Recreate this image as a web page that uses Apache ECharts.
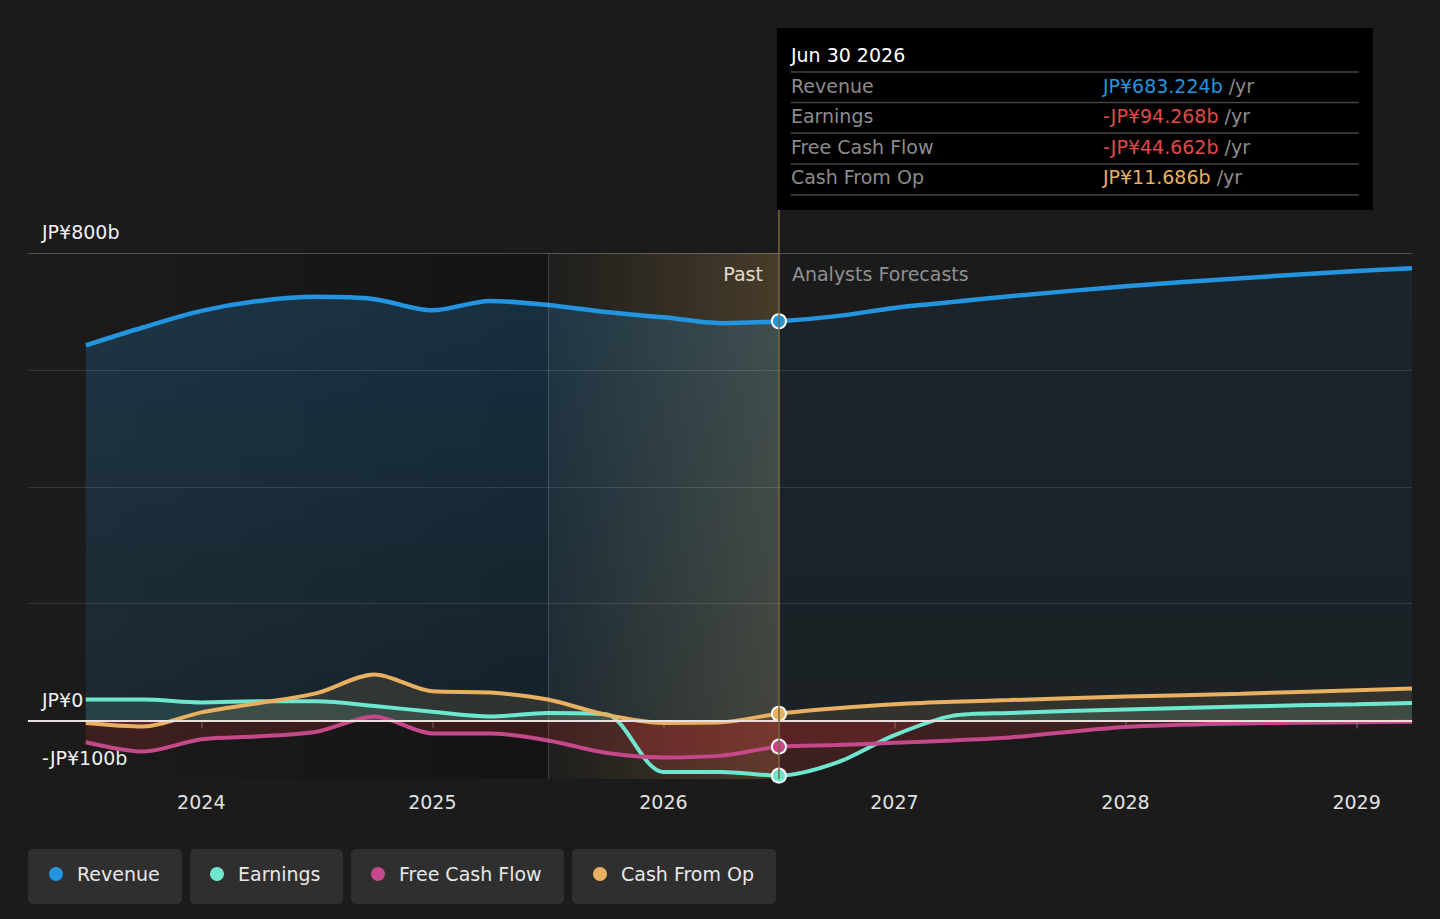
<!DOCTYPE html>
<html><head><meta charset="utf-8">
<script src="https://cdn.jsdelivr.net/npm/echarts@6/dist/echarts.min.js"></script>
<style>html,body{margin:0;padding:0;background:#1b1b1b;}#chart{width:1440px;height:919px;}</style>
</head><body><div id="chart"></div>
<script>
// ---- data (JP¥ billions, x = decimal year) ----
const xYears   = [2023.5, 2023.75, 2024.0, 2024.25, 2024.5, 2024.75, 2025.0, 2025.25, 2025.5, 2025.75, 2026.0, 2026.25, 2026.5, 2026.75, 2027.0, 2027.25, 2027.5, 2028.0, 2028.5, 2029.0, 2029.24];
const revenue  = [642, 673, 701, 718, 725, 721, 702, 718, 711, 699, 690, 680, 683.224, 692, 706, 716, 726, 743, 757, 769, 774];
const earnings = [36, 36, 31, 33, 33, 25, 15, 7, 13, 11, -88, -88, -94.268, -72, -25, 8, 13, 19, 24, 28, 30];
const fcf      = [-37, -53, -32, -27, -19, 7, -22, -22, -34, -55, -63, -60, -44.662, -42, -38, -34, -29, -11, -5, -3, -2];
const cfo      = [-4, -10, 14, 30, 47, 79, 50, 48, 36, 10, -4, -3, 11.686, 21, 28, 32, 35, 41, 46, 52, 55];
const yearTicks = [2024, 2025, 2026, 2027, 2028, 2029];
const yLabelValues = [-100, 0, 800];
const gridValues = [200, 400, 600, 800];
const pastStart = 2025.5;
const nowX = 2026.5;
const seriesNames = ['Revenue', 'Earnings', 'Free Cash Flow', 'Cash From Op'];
const seriesColors = ['#2394df', '#6ee7d1', '#c5488a', '#e8b060'];
const tipTitle = 'Jun 30 2026';
const tipValues = ['JP¥683.224b', '-JP¥94.268b', '-JP¥44.662b', 'JP¥11.686b'];
const tipColors = ['#2394df', '#e04a4a', '#e04a4a', '#e8b060'];

const FONT = 'DejaVu Sans';
const seriesData = [revenue, earnings, fcf, cfo];
const pairs = arr => xYears.map((x, i) => [x, arr[i]]);
const nowIdx = xYears.indexOf(nowX);

const chart = echarts.init(document.getElementById('chart'), null, {renderer: 'svg'});

const base = {
  backgroundColor: '#1b1b1b',
  animation: false,
  grid: {left: 28, right: 28, top: 253, bottom: 140, containLabel: false},
  xAxis: {
    type: 'value', min: 2023.25, max: 2029.24,
    axisLine: {show: true, lineStyle: {color: '#4f4f4f', width: 1.5}},
    axisTick: {show: true, customValues: yearTicks, length: 8, lineStyle: {color: '#5a5a5a', width: 1.5}},
    axisLabel: {customValues: yearTicks, formatter: v => String(Math.round(v)), color: '#e2e2e2', fontSize: 19, fontFamily: FONT, margin: 13},
    splitLine: {show: false}
  },
  yAxis: {
    type: 'value', min: -100, max: 800,
    axisLine: {show: false}, axisTick: {show: false}, splitLine: {show: false},
    axisLabel: {
      customValues: yLabelValues, inside: true, margin: 14, align: 'left', verticalAlign: 'bottom',
      lineHeight: 20, padding: [0, 0, 11, 0],
      formatter: v => v === 800 ? 'JP¥800b' : (v === 0 ? 'JP¥0' : '-JP¥100b'),
      color: '#f0f0f0', fontSize: 19, fontFamily: FONT
    }
  },
  legend: seriesNames.map((n, i) => ({
    data: [n], left: [49, 210, 371, 593][i], top: 863, padding: 0,
    icon: 'circle', itemWidth: 14, itemHeight: 14, selectedMode: false,
    textStyle: {color: '#e8e8e8', fontSize: 19, fontFamily: FONT, lineHeight: 22, padding: [0, 0, 0, 9]}
  })),
  series: []
};
chart.setOption(base);

const px = v => chart.convertToPixel({xAxisIndex: 0}, v);
const py = v => chart.convertToPixel({yAxisIndex: 0}, v);
const yTop = py(800), yZero = py(0), yBot = py(-100);
const xNow = px(nowX);
const zf = (yZero - yTop) / (yBot - yTop);

function splitFill(pos, neg) {
  return {type: 'linear', x: 0, y: yTop, x2: 0, y2: yBot, global: true,
    colorStops: [{offset: 0, color: pos}, {offset: zf, color: pos}, {offset: zf, color: neg}, {offset: 1, color: neg}]};
}
const revPastFill = {type: 'linear', x: 0, y: yTop, x2: 0, y2: yZero, global: true,
  colorStops: [{offset: 0, color: 'rgba(35,148,223,0.32)'}, {offset: 1, color: 'rgba(35,148,223,0.15)'}]};
const revFcFill = {type: 'linear', x: 0, y: yTop, x2: 0, y2: yZero, global: true,
  colorStops: [{offset: 0, color: 'rgba(35,148,223,0.11)'}, {offset: 1, color: 'rgba(35,148,223,0.08)'}]};
const NEG = 'rgba(205,50,55,0.28)';
const fills = [
  null,
  splitFill('rgba(110,231,209,0.2)', NEG),
  splitFill('rgba(197,72,138,0.18)', NEG),
  splitFill('rgba(232,176,96,0.17)', NEG)
];

const revPastPairs = pairs(revenue).filter(p => p[0] <= nowX);
const revFcPairs = pairs(revenue).filter(p => p[0] >= nowX);
const areaOnly = (name, data, fill) => ({
  name: name, type: 'line', z: 2, data: data, symbol: 'none', smooth: 0.3, silent: true,
  lineStyle: {width: 0, opacity: 0}, areaStyle: {color: fill, origin: 0}, emphasis: {disabled: true}
});

const lineSeries = seriesNames.map((n, i) => ({
  name: n, type: 'line', z: 2, color: seriesColors[i],
  data: pairs(seriesData[i]), symbol: 'none', smooth: 0.3,
  lineStyle: {width: i === 0 ? 4.5 : 4, color: seriesColors[i]},
  areaStyle: fills[i] ? {color: fills[i], origin: 0} : undefined,
  emphasis: {disabled: true}, silent: true
}));

const bgSeries = {
  name: 'bg', type: 'line', z: 1, data: [], silent: true,
  markArea: {silent: true, data: [[{xAxis: xYears[0], itemStyle: {color: {type: 'linear', x: 0, y: 0, x2: 1, y2: 0,
      colorStops: [{offset: 0, color: 'rgba(0,0,0,0)'}, {offset: 1, color: 'rgba(0,0,0,0.28)'}]}}}, {xAxis: pastStart}]]},
  markLine: {silent: true, symbol: 'none', label: {show: false},
    data: gridValues.map(v => ({yAxis: v, lineStyle: {color: v === 800 ? 'rgba(255,255,255,0.24)' : 'rgba(255,255,255,0.12)', width: 1.2, type: 'solid'}}))
      .concat([{yAxis: 0, lineStyle: {color: '#eadede', width: 2, type: 'solid'}}])}
};

const overlaySeries = {
  name: 'overlay', type: 'line', z: 3, data: [], silent: true,
  markArea: {silent: true, data: [[{xAxis: pastStart, itemStyle: {color: {type: 'linear', x: 0, y: 0, x2: 1, y2: 0,
      colorStops: [{offset: 0, color: 'rgba(190,150,80,0.02)'}, {offset: 1, color: 'rgba(190,150,80,0.27)'}]}}}, {xAxis: nowX}]]},
  markLine: {silent: true, symbol: 'none', label: {show: false},
    data: [{xAxis: pastStart, lineStyle: {color: 'rgba(255,255,255,0.14)', width: 1.2, type: 'solid'}},
           {xAxis: nowX, lineStyle: {color: '#7a6842', width: 1.5, type: 'solid'}}]}
};

const dotSeries = {
  name: 'dots', type: 'scatter', z: 4, silent: true, symbol: 'circle', symbolSize: 14,
  data: seriesData.map((arr, i) => ({value: [xYears[nowIdx], arr[nowIdx]], itemStyle: {color: seriesColors[i], borderColor: '#ffffff', borderWidth: 2, opacity: 1}}))
};

const tipX = xNow - 2, tipY = 28, tipW = 596, tipH = 182;
const rowY = [86, 116, 147, 177];
const sepY = [72, 102.5, 133, 164, 195];
const graphics = [
  {type: 'line', shape: {x1: xNow, y1: tipY + tipH, x2: xNow, y2: yTop}, style: {stroke: '#7a6842', lineWidth: 1.5}},
  {type: 'rect', shape: {x: tipX, y: tipY, width: tipW, height: tipH}, style: {fill: '#000000'}},
  {type: 'text', x: tipX + 14, y: 55, style: {text: tipTitle, fill: '#ffffff', font: '19px "DejaVu Sans"', verticalAlign: 'middle'}},
  ...sepY.map(y => ({type: 'line', shape: {x1: tipX + 14, y1: y, x2: tipX + tipW - 14, y2: y}, style: {stroke: '#454545', lineWidth: 1.5}})),
  ...seriesNames.map((n, i) => ({type: 'text', x: tipX + 14, y: rowY[i], style: {text: n, fill: '#8c8c8c', font: '19px "DejaVu Sans"', verticalAlign: 'middle'}})),
  ...tipValues.map((v, i) => ({type: 'text', x: tipX + 326, y: rowY[i], style: {
    text: '{v|' + v + '}{u| /yr}', verticalAlign: 'middle',
    rich: {v: {fill: tipColors[i], font: '19px "DejaVu Sans"'}, u: {fill: '#8c8c8c', font: '19px "DejaVu Sans"'}}}})),
  {type: 'text', x: xNow - 16, y: 274, style: {text: 'Past', fill: '#eeeeee', font: '19px "DejaVu Sans"', align: 'right', verticalAlign: 'middle'}},
  {type: 'text', x: xNow + 13, y: 274, style: {text: 'Analysts Forecasts', fill: '#8f8f8f', font: '19px "DejaVu Sans"', align: 'left', verticalAlign: 'middle'}},
  ...[[28, 154], [190, 153], [351, 213], [572, 204]].map(b => ({type: 'rect', z: -1, shape: {x: b[0], y: 849, width: b[1], height: 55, r: 5}, style: {fill: '#2f2f2f'}}))
];

chart.setOption({series: [bgSeries, areaOnly('revPastArea', revPastPairs, revPastFill), areaOnly('revFcArea', revFcPairs, revFcFill), ...lineSeries, overlaySeries, dotSeries], graphic: graphics});
</script>
</body></html>
